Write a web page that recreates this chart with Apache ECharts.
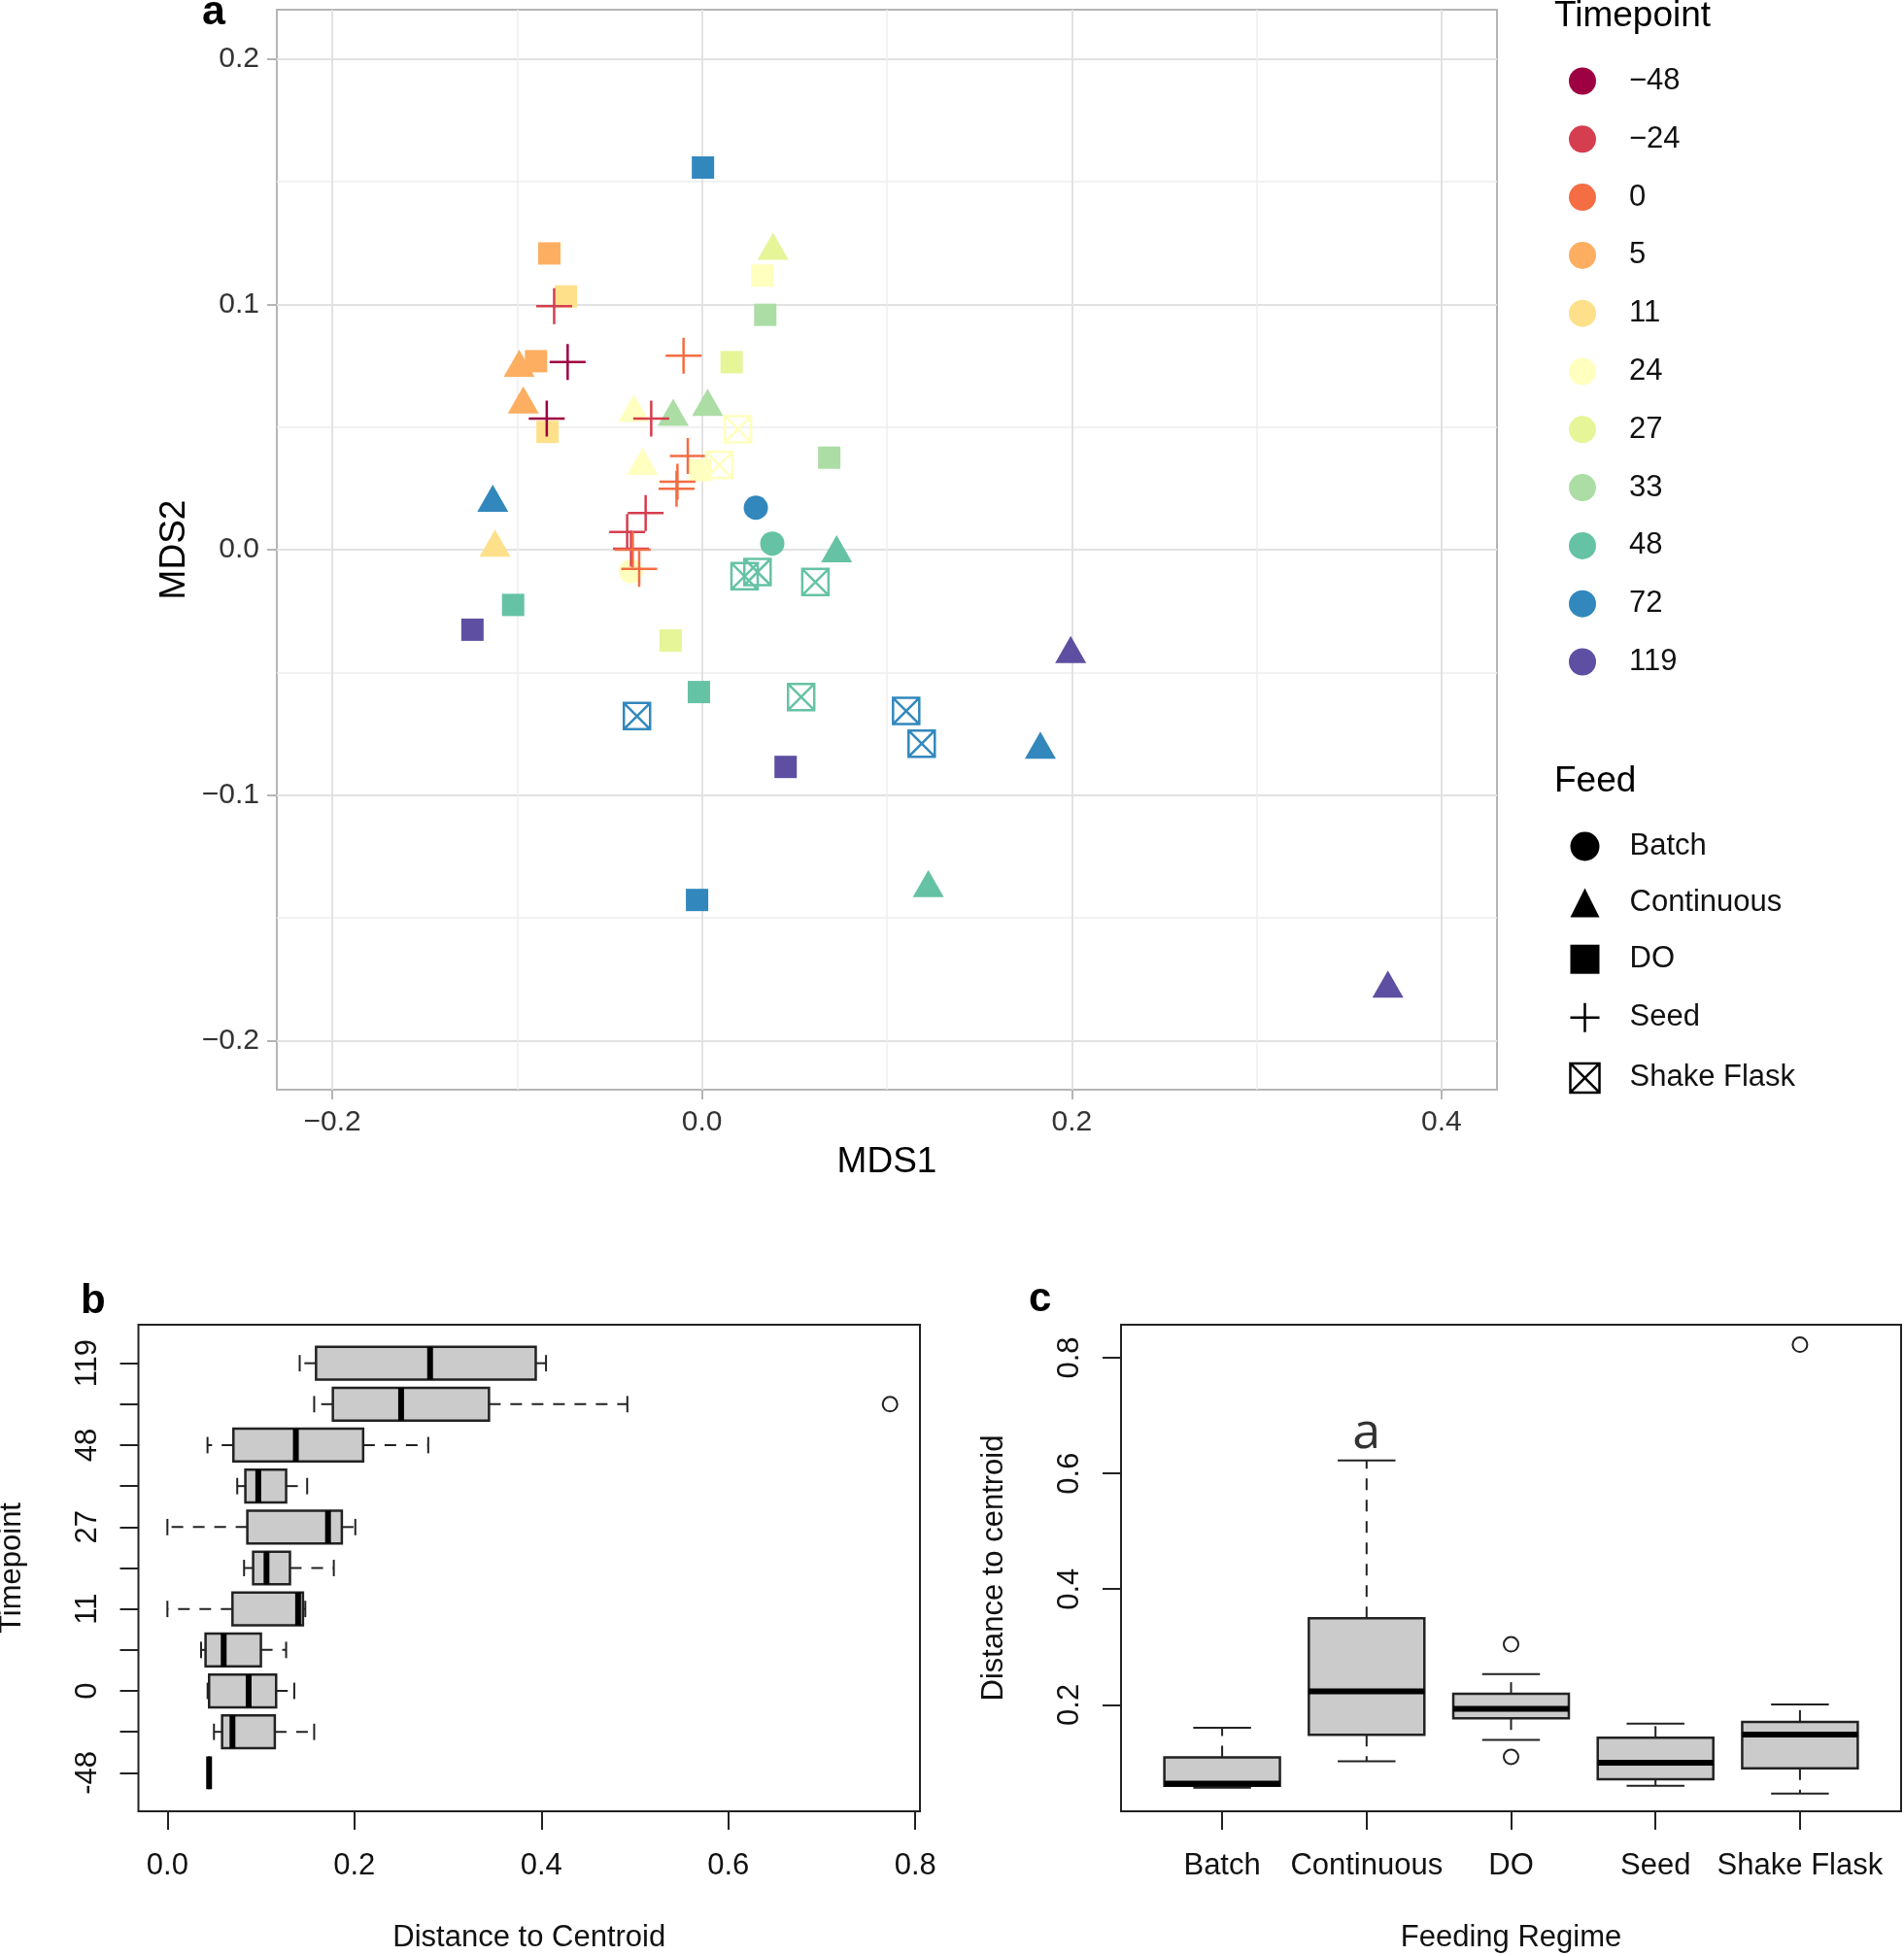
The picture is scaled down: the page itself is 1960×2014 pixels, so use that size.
<!DOCTYPE html>
<html><head><meta charset="utf-8">
<script src="https://cdn.jsdelivr.net/npm/echarts@6/dist/echarts.min.js"></script>
<style>html,body{margin:0;padding:0;background:#fff}#main{width:1960px;height:2014px}</style>
</head><body><div id="main"></div>
<script>
// ================= Panel a : NMDS ordination =================
const timepointValues = [-48, -24, 0, 5, 11, 24, 27, 33, 48, 72, 119];
const timepointLabels = ['\u221248', '\u221224', '0', '5', '11', '24', '27', '33', '48', '72', '119'];
const timepointColors = ['#9E0142', '#D53E4F', '#F46D43', '#FDAE61', '#FEE08B', '#FFFFBF', '#E6F598', '#ABDDA4', '#66C2A5', '#3288BD', '#5E4FA2'];
const feedNames = ['Batch', 'Continuous', 'DO', 'Seed', 'Shake Flask'];

// [MDS1, MDS2, timepoint]
const batchPoints = [
  [0.0291, 0.0171, 72], [0.0380, 0.0025, 48], [-0.0385, -0.0088, 24]
];
const continuousPoints = [
  [0.0384, 0.1237, 27], [-0.0989, 0.0760, 5], [-0.0967, 0.0610, 5], [-0.0369, 0.0577, 24],
  [-0.0156, 0.0560, 33], [0.0030, 0.0600, 33], [-0.0322, 0.0360, 24], [-0.1132, 0.0210, 72],
  [-0.1120, 0.0027, 11], [0.0728, 0.0004, 48], [0.1994, -0.0407, 119], [0.1830, -0.0796, 72],
  [0.1224, -0.1360, 48], [0.3710, -0.1770, 119]
];
const doPoints = [
  [0.0005, 0.1557, 72], [-0.0826, 0.1207, 5], [0.0326, 0.1117, 24], [-0.0736, 0.1032, 11],
  [0.0342, 0.0957, 33], [-0.0898, 0.0768, 5], [0.0160, 0.0764, 27], [-0.0836, 0.0480, 11],
  [-0.0010, 0.0324, 24], [0.0688, 0.0375, 33], [-0.1022, -0.0225, 48], [-0.1242, -0.0326, 119],
  [-0.0170, -0.0370, 27], [-0.0017, -0.0580, 48], [0.0452, -0.0885, 119], [-0.0027, -0.1427, 72]
];
const seedPoints = [
  [-0.0800, 0.0992, -24], [-0.0727, 0.0765, -48], [-0.0840, 0.0534, -48], [-0.0275, 0.0534, -24],
  [-0.0305, 0.0149, -24], [-0.0405, 0.0072, -24], [-0.0384, 0.0004, -24],
  [-0.0100, 0.0790, 0], [-0.0077, 0.0382, 0], [-0.0133, 0.0277, 0], [-0.0138, 0.0248, 0],
  [-0.0375, 0.0000, 0], [-0.0340, -0.0078, 0]
];
const shakeFlaskPoints = [
  [0.0194, 0.0491, 24], [0.0093, 0.0345, 24], [0.0230, -0.0108, 48], [0.0300, -0.0091, 48],
  [0.0613, -0.0132, 48], [0.0536, -0.0600, 48], [-0.0352, -0.0678, 72], [0.1104, -0.0657, 72],
  [0.1188, -0.0790, 72]
];
const mdsXMajor = [-0.2, 0, 0.2, 0.4];
const mdsXMinor = [-0.1, 0.1, 0.3];
const mdsYMajor = [-0.2, -0.1, 0, 0.1, 0.2];
const mdsYMinor = [-0.15, -0.05, 0.05, 0.15];

// ================= Panel b : distance to centroid by timepoint =================
const bTimepoints = ['-48', '-24', '0', '5', '11', '24', '27', '33', '48', '72', '119'];
const bShownLabels = ['-48', '0', '11', '27', '48', '119'];
const bLow    = [0.0446, 0.0498, 0.0430, 0.0360, 0.0000, 0.0820, 0.0000, 0.0747, 0.0429, 0.1570, 0.1415];
const bQ1     = [0.0446, 0.0585, 0.0446, 0.0408, 0.0696, 0.0917, 0.0855, 0.0834, 0.0706, 0.1770, 0.1590];
const bMedian = [0.0446, 0.0696, 0.0869, 0.0602, 0.1398, 0.1060, 0.1718, 0.0972, 0.1374, 0.2500, 0.2810];
const bQ3     = [0.0446, 0.1149, 0.1163, 0.1000, 0.1450, 0.1311, 0.1866, 0.1270, 0.2094, 0.3440, 0.3940];
const bHigh   = [0.0446, 0.1570, 0.1357, 0.1270, 0.1475, 0.1780, 0.2010, 0.1495, 0.2790, 0.4920, 0.4050];
const bOutlierGroup = ['72'];
const bOutlierValue = [0.773];
const bTicks = [0, 0.2, 0.4, 0.6, 0.8];

// ================= Panel c : distance to centroid by feeding regime =================
const cGroups = ['Batch', 'Continuous', 'DO', 'Seed', 'Shake Flask'];
const cLow    = [0.0565, 0.1026, 0.1395, 0.0600, 0.0466];
const cQ1     = [0.0602, 0.1480, 0.1766, 0.0714, 0.0904];
const cMedian = [0.0637, 0.2234, 0.1930, 0.1000, 0.1486];
const cQ3     = [0.1092, 0.3495, 0.2190, 0.1430, 0.1706];
const cHigh   = [0.1605, 0.6225, 0.2530, 0.1677, 0.2006];
const cOutlierGroup = ['DO', 'DO', 'Shake Flask'];
const cOutlierValue = [0.3046, 0.1100, 0.8224];
const cTicks = [0.2, 0.4, 0.6, 0.8];
const cAnnotGroup = ['Continuous'];
const cAnnotValue = [0.668];
const cAnnotText = ['a'];

// ================= build =================
const FONT = "'Liberation Sans', Arial, Helvetica, sans-serif";
const chart = echarts.init(document.getElementById('main'), null, { renderer: 'canvas' });

const plusPath = 'path://M0,-10L0,10M-10,0L10,0';
const flaskPath = 'path://M-10,-10L10,-10L10,10L-10,10ZM-10,-10L10,10M10,-10L-10,10';
const feedPoints = [batchPoints, continuousPoints, doPoints, seedPoints, shakeFlaskPoints];
const feedSymbols = ['circle', 'triangle', 'rect', plusPath, flaskPath];
const feedSizes = [25, [32, 28], 23, 37, 27];
const feedHollow = [false, false, false, true, true];
const colorOf = tp => timepointColors[timepointValues.indexOf(tp)];
const fmtSigned = v => (v < -1e-9 ? '\u2212' : '') + Math.abs(v).toFixed(1);

const scatterSeries = feedNames.map((name, k) => ({
  type: 'scatter', name: name, xAxisIndex: 0, yAxisIndex: 0,
  symbol: feedSymbols[k], symbolSize: feedSizes[k], silent: true, z: 3,
  itemStyle: feedHollow[k] ? { color: 'none', borderColor: '#000', borderWidth: 2.5, opacity: 1 } : { color: '#000', borderWidth: 0, opacity: 1 },
  data: feedPoints[k].map(p => ({
    value: [p[0], p[1]],
    itemStyle: feedHollow[k] ? { color: 'none', borderColor: colorOf(p[2]), borderWidth: 2.5, opacity: 1 } : { color: colorOf(p[2]), opacity: 1 }
  }))
}));
const tpDummySeries = timepointLabels.map((n, i) => ({
  type: 'scatter', name: n, xAxisIndex: 0, yAxisIndex: 0, data: [], itemStyle: { color: timepointColors[i], opacity: 1 }
}));

function boxRenderer(horizontal) {
  return function (params, api) {
    const c = api.value(0);
    const v = [1, 2, 3, 4, 5].map(i => api.value(i));
    const P = (val, off) => horizontal ? api.coord([val, c + off]) : api.coord([c + off, val]);
    const pos = v.map(val => { const p = P(val, 0); return horizontal ? p[0] : p[1]; });
    const a = P(v[0], -0.4), b = P(v[0], 0.4);
    const k = horizontal ? 1 : 0;
    const c0 = Math.min(a[k], b[k]), c1 = Math.max(a[k], b[k]);
    const mid = (c0 + c1) / 2, capHalf = (c1 - c0) / 4;
    const seg = (p1, p2, q1, q2, style) => ({
      type: 'line',
      shape: horizontal ? { x1: p1, y1: q1, x2: p2, y2: q2 } : { x1: q1, y1: p1, x2: q2, y2: p2 },
      style: style
    });
    const dash = { stroke: '#222', lineWidth: 2, lineDash: [12, 10] };
    const solid = { stroke: '#222', lineWidth: 2 };
    const lo = Math.min(pos[1], pos[3]), hiP = Math.max(pos[1], pos[3]);
    const rect = horizontal
      ? { x: lo, y: c0, width: hiP - lo, height: c1 - c0 }
      : { x: c0, y: lo, width: c1 - c0, height: hiP - lo };
    return {
      type: 'group',
      children: [
        seg(pos[1], pos[0], mid, mid, dash),
        seg(pos[3], pos[4], mid, mid, dash),
        seg(pos[0], pos[0], mid - capHalf, mid + capHalf, solid),
        seg(pos[4], pos[4], mid - capHalf, mid + capHalf, solid),
        { type: 'rect', shape: rect, style: { fill: '#cbcbcb', stroke: '#222', lineWidth: 2.5 } },
        seg(pos[2], pos[2], c0, c1, { stroke: '#000', lineWidth: 6 })
      ]
    };
  };
}

const bBoxData = bTimepoints.map((t, i) => [i + 1, bLow[i], bQ1[i], bMedian[i], bQ3[i], bHigh[i]]);
const cBoxData = cGroups.map((g, i) => [i + 1, cLow[i], cQ1[i], cMedian[i], cQ3[i], cHigh[i]]);

const labelFont = { fontFamily: FONT, color: '#111', fontSize: 31 };
const rAxisTick = { show: true, inside: false, length: 19, lineStyle: { color: '#222', width: 2 } };
const noLine = { show: false, onZero: false };

const option = {
  animation: false,
  backgroundColor: '#fff',
  textStyle: { fontFamily: FONT },
  title: [
    { text: 'a', left: 208, top: -8, padding: 0, textStyle: { fontSize: 43, fontWeight: 'bold', color: '#000', fontFamily: FONT } },
    { text: 'b', left: 83, top: 1319, padding: 0, textStyle: { fontSize: 42, fontWeight: 'bold', color: '#000', fontFamily: FONT } },
    { text: 'c', left: 1059, top: 1317, padding: 0, textStyle: { fontSize: 42, fontWeight: 'bold', color: '#000', fontFamily: FONT } },
    { text: 'Timepoint', left: 1600, top: -1.5, padding: 0, textStyle: { fontSize: 37, fontWeight: 'normal', color: '#000', fontFamily: FONT } },
    { text: 'Feed', left: 1600, top: 786, padding: 0, textStyle: { fontSize: 37, fontWeight: 'normal', color: '#000', fontFamily: FONT } }
  ],
  legend: [
    {
      orient: 'vertical', left: 1615, top: 68, padding: 0, itemWidth: 28, itemHeight: 28, itemGap: 28.8,
      selectedMode: false,
      data: timepointLabels.map((n, i) => ({ name: n, icon: 'circle', itemStyle: { color: timepointColors[i], borderWidth: 0, opacity: 1 } })),
      textStyle: { fontSize: 31, lineHeight: 28, color: '#111', fontFamily: FONT, padding: [0, 0, 0, 29] }
    },
    {
      orient: 'vertical', left: 1614, top: 856, padding: 0, itemWidth: 30, itemHeight: 30, itemGap: 27.1,
      selectedMode: false,
      data: feedNames.map((n, k) => ({
        name: n, icon: feedSymbols[k],
        itemStyle: feedHollow[k] ? { color: 'none', borderColor: '#000', borderWidth: 2.5, opacity: 1 } : { color: '#000', borderWidth: 0, opacity: 1 }
      })),
      textStyle: { fontSize: 31, lineHeight: 30, color: '#111', fontFamily: FONT, padding: [0, 0, 0, 26] }
    }
  ],
  grid: [
    { left: 285, top: 10, width: 1256, height: 1112, show: true, borderColor: '#b5b5b5', borderWidth: 2, backgroundColor: '#fff', containLabel: false, outerBoundsMode: 'none' },
    { left: 142.5, top: 1364, width: 804.5, height: 501, show: true, borderColor: '#222', borderWidth: 2, containLabel: false, outerBoundsMode: 'none' },
    { left: 1154, top: 1364, width: 803, height: 501, show: true, borderColor: '#222', borderWidth: 2, containLabel: false, outerBoundsMode: 'none' }
  ],
  xAxis: [
    {
      type: 'value', gridIndex: 0, min: -0.23, max: 0.43, position: 'bottom',
      axisLine: noLine,
      axisTick: { show: true, inside: false, length: 10, lineStyle: { color: '#b5b5b5', width: 2 }, customValues: mdsXMajor },
      axisLabel: { customValues: mdsXMajor, formatter: fmtSigned, fontSize: 30, color: '#333', margin: 19, fontFamily: FONT },
      splitLine: { show: true, lineStyle: { color: '#e2e2e2', width: 2 } },
      name: 'MDS1', nameLocation: 'middle', nameGap: 56, nameMoveOverlap: false,
      nameTextStyle: { fontSize: 37, color: '#000', fontFamily: FONT }
    },
    {
      type: 'value', gridIndex: 0, min: -0.23, max: 0.43, position: 'bottom',
      axisLine: noLine,
      axisTick: { show: false, customValues: mdsXMinor },
      axisLabel: { show: false, customValues: mdsXMinor },
      splitLine: { show: true, lineStyle: { color: '#eeeeee', width: 1.5 } }
    },
    {
      type: 'value', gridIndex: 1, min: -0.031, max: 0.805, position: 'bottom',
      axisLine: noLine, axisTick: Object.assign({ customValues: bTicks }, rAxisTick),
      axisLabel: Object.assign({ customValues: bTicks, formatter: v => v.toFixed(1), margin: 41 }, labelFont),
      splitLine: { show: false },
      name: 'Distance to Centroid', nameLocation: 'middle', nameGap: 115, nameMoveOverlap: false,
      nameTextStyle: labelFont
    },
    {
      type: 'value', gridIndex: 2, min: 0.3, max: 5.7, position: 'bottom',
      axisLine: noLine, axisTick: Object.assign({ customValues: cGroups.map((g, i) => i + 1) }, rAxisTick),
      axisLabel: Object.assign({ customValues: cGroups.map((g, i) => i + 1), formatter: v => cGroups[Math.round(v) - 1], margin: 41 }, labelFont),
      splitLine: { show: false },
      name: 'Feeding Regime', nameLocation: 'middle', nameGap: 115, nameMoveOverlap: false,
      nameTextStyle: labelFont
    }
  ],
  yAxis: [
    {
      type: 'value', gridIndex: 0, min: -0.22, max: 0.22, position: 'left',
      axisLine: noLine,
      axisTick: { show: true, inside: false, length: 10, lineStyle: { color: '#b5b5b5', width: 2 }, customValues: mdsYMajor },
      axisLabel: { customValues: mdsYMajor, formatter: fmtSigned, fontSize: 30, color: '#333', margin: 18, fontFamily: FONT },
      splitLine: { show: true, lineStyle: { color: '#e2e2e2', width: 2 } },
      name: 'MDS2', nameLocation: 'middle', nameGap: 87, nameRotate: 90, nameMoveOverlap: false,
      nameTextStyle: { fontSize: 37, color: '#000', fontFamily: FONT }
    },
    {
      type: 'value', gridIndex: 0, min: -0.22, max: 0.22, position: 'left',
      axisLine: noLine,
      axisTick: { show: false, customValues: mdsYMinor },
      axisLabel: { show: false, customValues: mdsYMinor },
      splitLine: { show: true, lineStyle: { color: '#eeeeee', width: 1.5 } }
    },
    {
      type: 'value', gridIndex: 1, min: 0.06, max: 11.94, position: 'left',
      axisLine: noLine, axisTick: Object.assign({ customValues: bTimepoints.map((t, i) => i + 1) }, rAxisTick),
      axisLabel: Object.assign({
        customValues: bShownLabels.map(t => bTimepoints.indexOf(t) + 1),
        formatter: v => bTimepoints[Math.round(v) - 1], rotate: 90, margin: 37
      }, labelFont),
      splitLine: { show: false },
      name: 'Timepoint', nameLocation: 'middle', nameGap: 115, nameRotate: 90, nameMoveOverlap: false,
      nameTextStyle: labelFont
    },
    {
      type: 'value', gridIndex: 2, min: 0.016, max: 0.857, position: 'left',
      axisLine: noLine, axisTick: Object.assign({ customValues: cTicks }, rAxisTick),
      axisLabel: Object.assign({ customValues: cTicks, formatter: v => v.toFixed(1), rotate: 90, margin: 37 }, labelFont),
      splitLine: { show: false },
      name: 'Distance to centroid', nameLocation: 'middle', nameGap: 115, nameRotate: 90, nameMoveOverlap: false,
      nameTextStyle: labelFont
    }
  ],
  series: [].concat(tpDummySeries, scatterSeries, [
    {
      type: 'custom', name: 'bBox', coordinateSystem: 'cartesian2d', xAxisIndex: 2, yAxisIndex: 2,
      renderItem: boxRenderer(true), data: bBoxData, silent: true, z: 2
    },
    {
      type: 'scatter', name: 'bOut', xAxisIndex: 2, yAxisIndex: 2, symbol: 'circle', symbolSize: 15, silent: true,
      itemStyle: { color: 'none', borderColor: '#222', borderWidth: 2, opacity: 1 },
      data: bOutlierGroup.map((g, i) => [bOutlierValue[i], bTimepoints.indexOf(g) + 1])
    },
    {
      type: 'custom', name: 'cBox', coordinateSystem: 'cartesian2d', xAxisIndex: 3, yAxisIndex: 3,
      renderItem: boxRenderer(false), data: cBoxData, silent: true, z: 2
    },
    {
      type: 'scatter', name: 'cOut', xAxisIndex: 3, yAxisIndex: 3, symbol: 'circle', symbolSize: 15, silent: true,
      itemStyle: { color: 'none', borderColor: '#222', borderWidth: 2, opacity: 1 },
      data: cOutlierGroup.map((g, i) => [cGroups.indexOf(g) + 1, cOutlierValue[i]])
    },
    {
      type: 'scatter', name: 'cAnnot', xAxisIndex: 3, yAxisIndex: 3, symbolSize: 0, silent: true,
      data: cAnnotGroup.map((g, i) => ({ value: [cGroups.indexOf(g) + 1, cAnnotValue[i]], label: { formatter: cAnnotText[i] } })),
      label: { show: true, position: 'inside', offset: [0, 0], fontSize: 52, color: '#000', fontFamily: "'Open Sans', sans-serif" }
    }
  ])
};
chart.setOption(option);
</script>
</body></html>
